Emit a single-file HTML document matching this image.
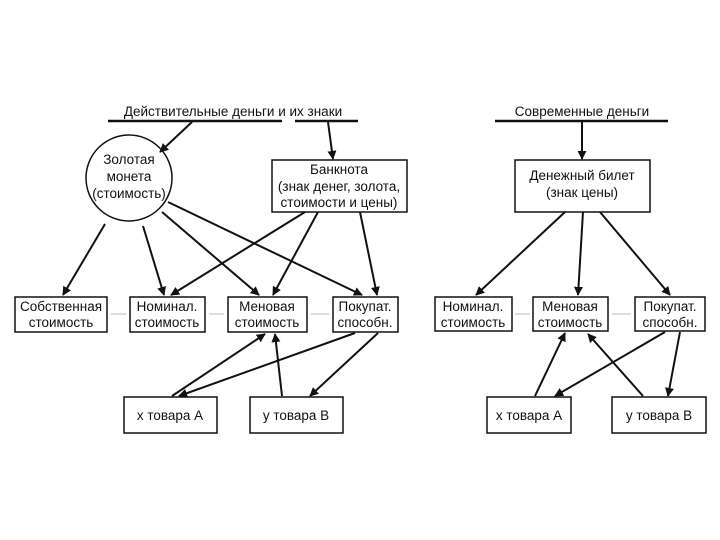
<!DOCTYPE html>
<html><head><meta charset="utf-8"><style>
html,body{margin:0;padding:0;background:#fff;width:720px;height:540px;overflow:hidden}
svg text{font-family:"Liberation Sans",Arial,sans-serif;font-size:13.5px;fill:#111;text-anchor:middle}
</style></head><body>
<svg width="720" height="540" viewBox="0 0 720 540">
<defs><marker id="a" viewBox="0 0 10 10" refX="9" refY="5" markerWidth="9" markerHeight="9" markerUnits="userSpaceOnUse" orient="auto"><path d="M0,0 L10,5 L0,10 z" fill="#111"/></marker></defs>
<g stroke="#111" fill="none">
<line x1="108" y1="121" x2="282" y2="121" stroke-width="2.5"/>
<line x1="295" y1="121" x2="358" y2="121" stroke-width="2.5"/>
<line x1="495" y1="121" x2="668" y2="121" stroke-width="2.5"/>
<circle cx="129" cy="178" r="43" stroke-width="1.5"/>
<rect x="272" y="160" width="135" height="52" stroke-width="1.5"/>
<rect x="15" y="297" width="92" height="35" stroke-width="1.5"/>
<rect x="130" y="297" width="75" height="35" stroke-width="1.5"/>
<rect x="228" y="297" width="79" height="35" stroke-width="1.5"/>
<rect x="333" y="297" width="65" height="35" stroke-width="1.5"/>
<rect x="124" y="397" width="93" height="36" stroke-width="1.5"/>
<rect x="250" y="397" width="93" height="36" stroke-width="1.5"/>
<rect x="515" y="160" width="135" height="52" stroke-width="1.5"/>
<rect x="435" y="297" width="77" height="34" stroke-width="1.5"/>
<rect x="533" y="297" width="75" height="34" stroke-width="1.5"/>
<rect x="635" y="297" width="70" height="34" stroke-width="1.5"/>
<rect x="487" y="397" width="84" height="36" stroke-width="1.5"/>
<rect x="612" y="397" width="94" height="36" stroke-width="1.5"/>
</g>
<g stroke="#bbb" stroke-width="1">
<line x1="111" y1="314" x2="126" y2="314"/><line x1="209" y1="314" x2="224" y2="314"/><line x1="311" y1="314" x2="329" y2="314"/>
<line x1="515" y1="314" x2="530" y2="314"/><line x1="612" y1="314" x2="631" y2="314"/>
</g>
<g stroke="#111" stroke-width="2" marker-end="url(#a)">
<line x1="192" y1="122" x2="160" y2="152"/>
<line x1="328" y1="122" x2="333" y2="159"/>
<line x1="105" y1="224" x2="63" y2="295"/>
<line x1="143" y1="226" x2="164" y2="295"/>
<line x1="162" y1="212" x2="259" y2="295"/>
<line x1="168" y1="202" x2="362" y2="295"/>
<line x1="305" y1="212" x2="171" y2="295"/>
<line x1="318" y1="212" x2="273" y2="295"/>
<line x1="360" y1="212" x2="377" y2="295"/>
<line x1="172" y1="396" x2="265" y2="334"/>
<line x1="355" y1="333" x2="179" y2="396"/>
<line x1="282" y1="396" x2="275" y2="334"/>
<line x1="378" y1="333" x2="310" y2="396"/>
<line x1="582" y1="122" x2="582" y2="159"/>
<line x1="565" y1="212" x2="476" y2="295"/>
<line x1="583" y1="212" x2="578" y2="295"/>
<line x1="600" y1="212" x2="670" y2="295"/>
<line x1="535" y1="396" x2="565" y2="333"/>
<line x1="643" y1="396" x2="588" y2="334"/>
<line x1="665" y1="332" x2="555" y2="396"/>
<line x1="680" y1="332" x2="668" y2="396"/>
</g>
<text x="233" y="116">Действительные деньги и их знаки</text>
<text x="582" y="116">Современные деньги</text>
<text x="129" y="164">Золотая</text><text x="129" y="181">монета</text><text x="129" y="198">(стоимость)</text>
<text x="339" y="174">Банкнота</text><text x="339" y="191">(знак денег, золота,</text><text x="339" y="207">стоимости и цены)</text>
<text x="582" y="180">Денежный билет</text><text x="582" y="197">(знак цены)</text>
<text x="61" y="311">Собственная</text><text x="61" y="327">стоимость</text>
<text x="167" y="311">Номинал.</text><text x="167" y="327">стоимость</text>
<text x="267" y="311">Меновая</text><text x="267" y="327">стоимость</text>
<text x="365" y="311">Покупат.</text><text x="365" y="327">способн.</text>
<text x="473" y="311">Номинал.</text><text x="473" y="327">стоимость</text>
<text x="570" y="311">Меновая</text><text x="570" y="327">стоимость</text>
<text x="670" y="311">Покупат.</text><text x="670" y="327">способн.</text>
<text x="170" y="420">x товара A</text><text x="296" y="420">y товара B</text>
<text x="529" y="420">x товара A</text><text x="659" y="420">y товара B</text>
</svg>
</body></html>
